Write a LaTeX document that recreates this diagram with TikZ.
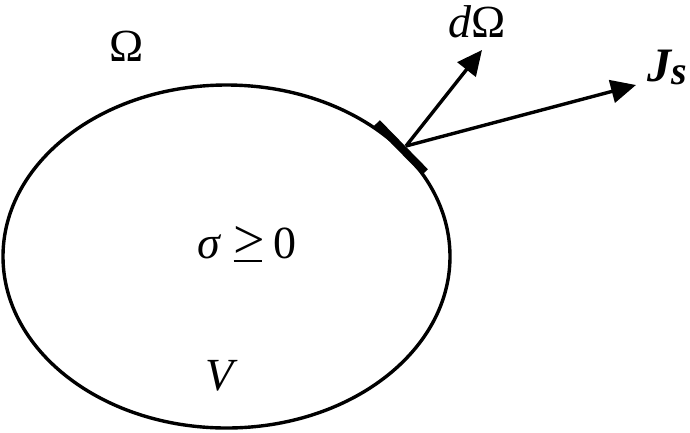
\documentclass[tikz,border=0pt]{standalone}
\usepackage{fontspec}
\setmainfont{Liberation Serif}
\usetikzlibrary{arrows.meta}
\newcommand{\hgeq}{\mbox{\rlap{\hspace{-0.5pt}\fontsize{56}{56}\selectfont >}\rule[-4pt]{28pt}{2.4pt}}}
\tikzset{
  lbl/.style={inner sep=0pt, font=\fontsize{46}{46}\selectfont},
  vec/.style={line width=3.4pt, -{Triangle[length=25pt,width=23pt]}},
  boundary/.style={line width=3.4pt},
  patch/.style={line width=8pt}
}
\begin{document}
\begin{tikzpicture}[x=1pt,y=-1pt]
\useasboundingbox (0,0) rectangle (690,432);
\draw[boundary] (226.5,256.5) ellipse [x radius=223.5, y radius=171.5];
\coordinate (pa) at (377,123);
\coordinate (pb) at (425,172);
\draw[patch] (pa) -- (pb);
\coordinate (o) at (406,146);
\coordinate (tipn) at (482,50);
\coordinate (tipj) at (636,85);
\draw[vec] (o) -- (tipn);
\draw[vec] (o) -- (tipj);
\node[lbl] (omega) at (127,46) {Ω};
\node[lbl, anchor=base] (domega) at (477,37) {\textit{d}Ω};
\node[lbl, anchor=base west] (js) at (647,81) {\fontsize{48}{48}\selectfont\bfseries\itshape J\raisebox{-0.08em}{\fontsize{40}{40}\selectfont s}};
\node[lbl, anchor=base] (sigma) at (247,258) {\textit{σ} \hgeq{} 0};
\node[lbl, anchor=base] (v) at (222,390) {\textit{V}};
\end{tikzpicture}
\end{document}
